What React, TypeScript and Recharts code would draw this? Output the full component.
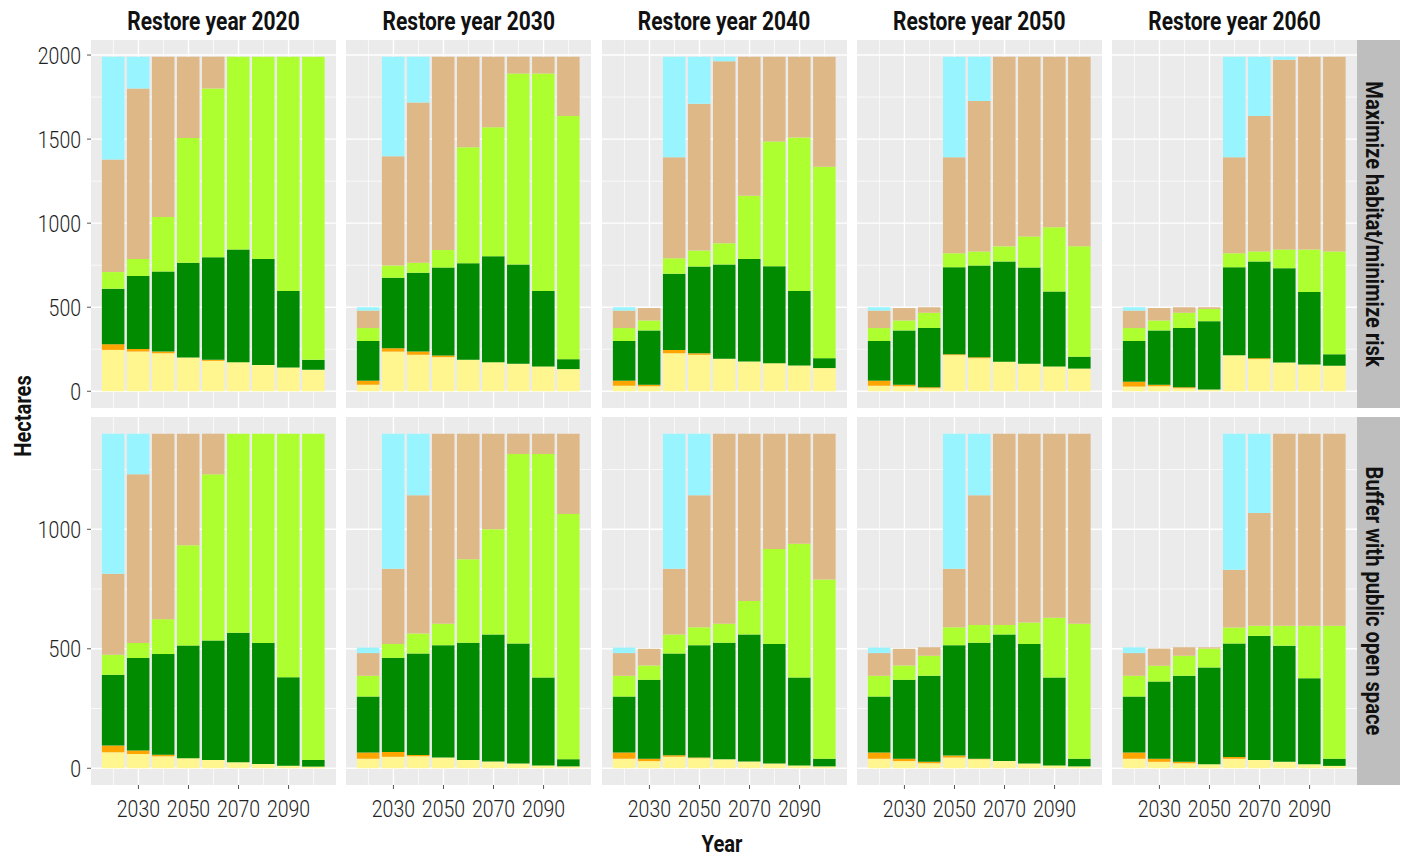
import React from 'react';
import { BarChart, Bar, XAxis, YAxis, CartesianGrid } from 'recharts';

const years = [2020, 2030, 2040, 2050, 2060, 2070, 2080, 2090, 2100];
const restoreYears = [2020, 2030, 2040, 2050, 2060];
const strategies = ['Maximize habitat/minimize risk', 'Buffer with public open space'];
const xTicks = [2030, 2050, 2070, 2090];
const xMinor = [2020, 2040, 2060, 2080, 2100];
const topTicks = [0, 500, 1000, 1500, 2000];
const topMinor = [250, 750, 1250, 1750];
const bottomTicks = [0, 500, 1000];
const bottomMinor = [250, 750, 1250];

const landKeys = ['yellow', 'orange', 'green', 'lime', 'tan', 'cyan'];
const landColors = ['#FFF68F', '#FFA500', '#008B00', '#ADFF2F', '#DEB887', '#98F5FF'];

// top row: maximize habitat / minimize risk, one inner array per restore year
const habitatYellow = [
  [246, 236, 226, 201, 181, 173, 157, 142, 128],
  [39, 236, 217, 203, 187, 173, 163, 148, 132],
  [33, 30, 226, 217, 193, 177, 167, 154, 138],
  [33, 30, 18, 215, 197, 176, 164, 148, 135],
  [28, 30, 18, 10, 215, 191, 171, 159, 152],
];
const habitatOrange = [
  [34, 16, 10, 0, 6, 0, 0, 0, 0],
  [24, 20, 19, 10, 0, 0, 0, 0, 0],
  [30, 9, 20, 9, 0, 0, 0, 0, 0],
  [30, 9, 6, 5, 6, 0, 0, 0, 0],
  [29, 9, 6, 0, 0, 6, 0, 0, 0],
];
const habitatGreen = [
  [330, 433, 477, 563, 610, 670, 630, 454, 59],
  [236, 419, 469, 523, 575, 630, 591, 448, 59],
  [236, 323, 453, 516, 561, 610, 577, 442, 59],
  [236, 323, 352, 518, 545, 596, 572, 445, 71],
  [242, 323, 352, 407, 523, 575, 561, 431, 68],
];
const habitatLime = [
  [99, 102, 324, 742, 1004, 1147, 1203, 1394, 1803],
  [77, 73, 59, 104, 689, 768, 1136, 1294, 1447],
  [77, 59, 92, 95, 126, 376, 742, 914, 1138],
  [77, 59, 91, 83, 84, 90, 185, 382, 656],
  [77, 59, 91, 73, 83, 60, 112, 254, 612],
];
const habitatTan = [
  [669, 1014, 953, 484, 189, 0, 0, 0, 0],
  [104, 650, 953, 1150, 539, 419, 100, 100, 352],
  [104, 74, 601, 874, 1083, 827, 504, 480, 655],
  [104, 74, 33, 571, 894, 1128, 1069, 1015, 1128],
  [104, 74, 33, 10, 571, 806, 1128, 1146, 1158],
];
const habitatCyan = [
  [612, 189, 0, 0, 0, 0, 0, 0, 0],
  [20, 592, 273, 0, 0, 0, 0, 0, 0],
  [20, 0, 598, 279, 27, 0, 0, 0, 0],
  [20, 0, 0, 598, 264, 0, 0, 0, 0],
  [20, 0, 0, 0, 598, 352, 18, 0, 0],
];

// bottom row: buffer with public open space
const bufferYellow = [
  [67, 60, 50, 42, 35, 25, 18, 11, 7],
  [40, 48, 50, 45, 35, 28, 20, 12, 8],
  [40, 30, 48, 42, 38, 28, 20, 12, 8],
  [40, 30, 21, 45, 38, 30, 20, 12, 8],
  [40, 27, 21, 17, 40, 35, 27, 17, 10],
];
const bufferOrange = [
  [28, 14, 7, 0, 0, 0, 0, 0, 0],
  [26, 20, 6, 0, 0, 0, 0, 0, 0],
  [26, 10, 7, 3, 0, 0, 0, 0, 0],
  [26, 10, 6, 8, 2, 0, 0, 0, 0],
  [26, 13, 6, 0, 7, 0, 0, 0, 0],
];
const bufferGreen = [
  [296, 387, 421, 472, 500, 542, 506, 370, 28],
  [234, 394, 424, 470, 490, 532, 502, 368, 30],
  [234, 330, 425, 470, 487, 532, 500, 368, 32],
  [234, 330, 360, 462, 485, 530, 500, 368, 32],
  [234, 323, 360, 405, 475, 519, 486, 360, 30],
];
const bufferLime = [
  [84, 63, 146, 419, 695, 833, 876, 1019, 1365],
  [87, 58, 84, 90, 350, 440, 793, 935, 1026],
  [87, 60, 80, 75, 80, 140, 398, 560, 750],
  [87, 60, 84, 75, 75, 40, 90, 250, 565],
  [87, 66, 84, 79, 67, 42, 83, 219, 556],
];
const bufferTan = [
  [339, 706, 776, 467, 170, 0, 0, 0, 0],
  [95, 315, 579, 795, 525, 400, 85, 85, 336],
  [95, 70, 275, 553, 795, 700, 482, 460, 610],
  [95, 70, 35, 245, 543, 800, 790, 770, 795],
  [95, 72, 35, 5, 242, 472, 804, 804, 804],
];
const bufferCyan = [
  [586, 170, 0, 0, 0, 0, 0, 0, 0],
  [23, 565, 257, 0, 0, 0, 0, 0, 0],
  [23, 0, 565, 257, 0, 0, 0, 0, 0],
  [23, 0, 0, 565, 257, 0, 0, 0, 0],
  [24, 0, 0, 0, 569, 332, 0, 0, 0],
];

const habitatSeries = [habitatYellow, habitatOrange, habitatGreen, habitatLime, habitatTan, habitatCyan];
const bufferSeries = [bufferYellow, bufferOrange, bufferGreen, bufferLime, bufferTan, bufferCyan];

const FONT = 'Roboto, "Noto Sans", sans-serif';
const PANEL_W = 245;
const PANEL_H = 368;
const PITCH = 255.25;
const LEFT0 = 91;
const ROW_TOP = [40, 417];
const Y_AXIS_W = 91;
const X_AXIS_H = 50;
const X_DOMAIN = [2011.05, 2108.95];
const BAR_W = (PANEL_W / (X_DOMAIN[1] - X_DOMAIN[0])) * 9;
const DIGIT_W = 10.8;
const SQUEEZE = 0.84; // the original uses a condensed face

function buildRows(series: number[][][], col: number) {
  return years.map((year, i) => {
    const row: Record<string, number> = { year };
    landKeys.forEach((k, s) => {
      row[k] = series[s][col][i];
    });
    return row;
  });
}

function XTick({ x, y, payload }: any) {
  const label = String(payload.value);
  return (
    <text x={x} y={y} dy="0.71em" textAnchor="middle" fill="#222" fontSize={24} fontWeight={300}
      fontFamily={FONT} textLength={label.length * DIGIT_W} lengthAdjust="spacingAndGlyphs">
      {label}
    </text>
  );
}

function YTick({ x, y, payload }: any) {
  const label = String(payload.value);
  return (
    <text x={x} y={y} dy="0.355em" textAnchor="end" fill="#222" fontSize={24} fontWeight={300}
      fontFamily={FONT} textLength={label.length * DIGIT_W} lengthAdjust="spacingAndGlyphs">
      {label}
    </text>
  );
}

function Panel({ row, col }: { row: number; col: number }) {
  const isLeft = col === 0;
  const isBottom = row === 1;
  const data = buildRows(row === 0 ? habitatSeries : bufferSeries, col);
  const max = row === 0 ? 1990 : 1400;
  const width = PANEL_W + (isLeft ? Y_AXIS_W : 0);
  const height = PANEL_H + (isBottom ? X_AXIS_H : 0);
  const left = isLeft ? 0 : LEFT0 + col * PITCH;

  return (
    <div style={{ position: 'absolute', left, top: ROW_TOP[row] }}>
      <BarChart width={width} height={height} data={data} margin={{ top: 0, right: 0, bottom: 0, left: 0 }}>
        <CartesianGrid
          fill="#EBEBEB"
          stroke="#FFFFFF"
          strokeWidth={0.7}
          horizontalValues={row === 0 ? topMinor : bottomMinor}
          verticalValues={xMinor}
        />
        <CartesianGrid
          stroke="#FFFFFF"
          strokeWidth={1.4}
          horizontalValues={row === 0 ? topTicks : bottomTicks}
          verticalValues={xTicks}
        />
        <XAxis
          type="number"
          dataKey="year"
          domain={X_DOMAIN}
          ticks={xTicks}
          interval={0}
          allowDataOverflow
          hide={!isBottom}
          height={X_AXIS_H}
          axisLine={false}
          tickSize={4}
          tickMargin={11}
          tickLine={{ stroke: '#555' }}
          tick={<XTick />}
        />
        <YAxis
          type="number"
          domain={[-0.05 * max, 1.05 * max]}
          ticks={row === 0 ? topTicks : bottomTicks}
          interval={0}
          allowDataOverflow
          hide={!isLeft}
          width={Y_AXIS_W}
          axisLine={false}
          tickSize={4}
          tickMargin={6}
          tickLine={{ stroke: '#555' }}
          tick={<YTick />}
        />
        {landKeys.map((k, s) => (
          <Bar key={k} dataKey={k} stackId="land" fill={landColors[s]} barSize={BAR_W} isAnimationActive={false} />
        ))}
      </BarChart>
    </div>
  );
}

export default function App() {
  const stripX = LEFT0 + 4 * PITCH + PANEL_W;
  return (
    <div
      style={{
        position: 'absolute',
        left: 0,
        top: 0,
        width: 1402,
        height: 857,
        background: '#FFFFFF',
        fontFamily: FONT,
        overflow: 'hidden',
      }}
    >
      {strategies.map((name, row) => (
        <div
          key={name}
          style={{
            position: 'absolute',
            left: stripX,
            top: ROW_TOP[row],
            width: 1402 - stripX - 2,
            height: PANEL_H,
            background: '#BEBEBE',
          }}
        />
      ))}
      {[0, 1].map((row) =>
        restoreYears.map((ry, col) => <Panel key={`${row}-${ry}`} row={row} col={col} />)
      )}
      <svg
        width={1402}
        height={857}
        style={{ position: 'absolute', left: 0, top: 0, pointerEvents: 'none' }}
        fontFamily={FONT}
        fontWeight="bold"
        fill="#111"
      >
        {restoreYears.map((ry, col) => (
          <text key={ry} textAnchor="middle" fontSize={25}
            transform={`translate(${LEFT0 + col * PITCH + PANEL_W / 2}, 30) scale(${SQUEEZE}, 1)`}>
            Restore year {ry}
          </text>
        ))}
        {strategies.map((name, row) => (
          <text key={name} textAnchor="middle" fontSize={24}
            transform={`translate(1366, ${ROW_TOP[row] + PANEL_H / 2}) rotate(90) scale(${SQUEEZE}, 1)`}>
            {name}
          </text>
        ))}
        <text transform={`translate(31, 416) rotate(-90) scale(${SQUEEZE}, 1)`} textAnchor="middle" fontSize={24}>
          Hectares
        </text>
        <text transform={`translate(722, 852) scale(${SQUEEZE}, 1)`} textAnchor="middle" fontSize={24}>
          Year
        </text>
      </svg>
    </div>
  );
}
